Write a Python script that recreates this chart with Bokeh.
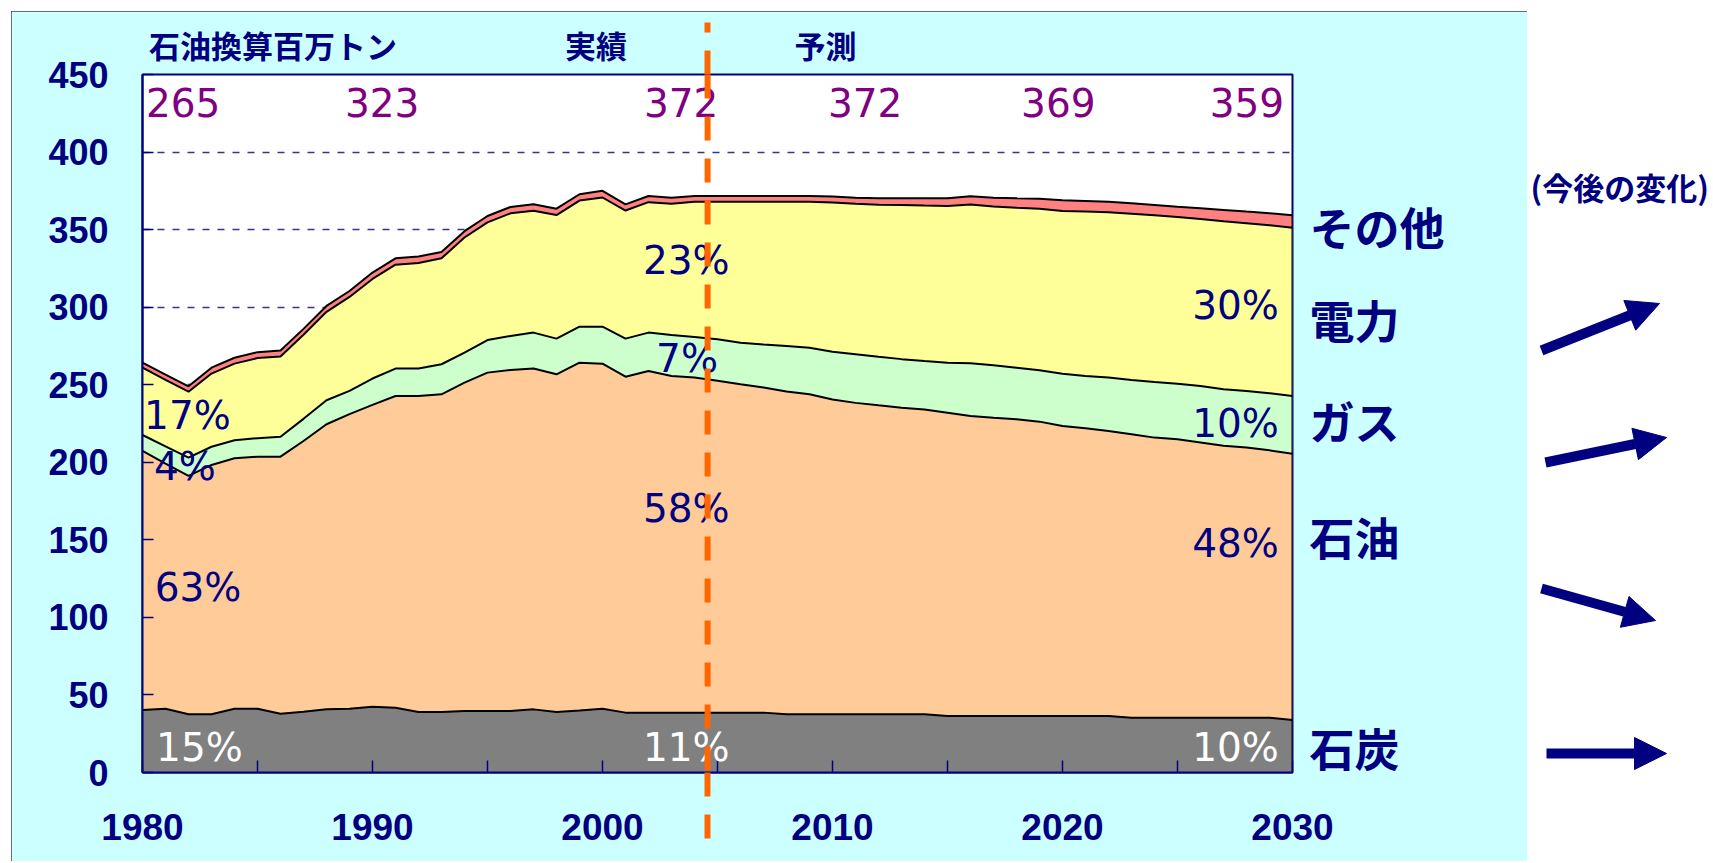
from bokeh.plotting import figure
from bokeh.models import (ColumnDataSource, Range1d, FixedTicker, Label, Arrow,
                          NormalHead, Spacer, Span, LinearAxis)
from bokeh.layouts import row, column
from bokeh.embed import file_html
from bokeh.resources import INLINE

# ---------------- data (million tonnes oil equivalent) ----------------
years = list(range(1980, 2031))
coal = [40.3, 41.1, 37.5, 37.5, 41.1, 41.1, 37.9, 39.2, 40.7, 41.1,
        42.4, 41.8, 39.0, 39.0, 39.7, 39.7, 39.7, 40.7, 39.0, 40.0,
        41.1, 38.6, 38.6, 38.6, 38.6, 38.6, 38.6, 38.6, 37.5, 37.5,
        37.5, 37.5, 37.5, 37.5, 37.5, 36.4, 36.4, 36.4, 36.4, 36.4,
        36.4, 36.4, 36.4, 35.3, 35.3, 35.3, 35.3, 35.3, 35.3, 35.3,
        33.8]
oil = [167.0, 158.1, 153.7, 160.8, 161.5, 162.5, 165.7, 174.5, 183.8, 189.9,
       194.6, 200.9, 203.7, 204.8, 211.6, 218.1, 219.8, 219.7, 217.7, 224.2,
       222.5, 216.6, 220.3, 217.0, 216.0, 213.9, 211.7, 209.6, 208.1, 206.3,
       203.0, 200.8, 199.2, 197.7, 196.6, 195.6, 193.4, 192.3, 191.3, 189.8,
       187.0, 185.5, 183.8, 182.8, 180.6, 179.5, 177.4, 175.3, 174.2, 172.4,
       171.7]
gas = [10.3, 11.1, 11.8, 11.7, 11.6, 11.9, 12.9, 14.3, 15.5, 15.0,
       17.0, 17.7, 17.7, 19.4, 19.4, 21.0, 21.9, 23.2, 23.0, 23.2,
       23.8, 24.5, 24.7, 26.5, 26.2, 26.8, 26.8, 27.8, 29.4, 30.1,
       30.8, 31.4, 31.3, 31.3, 31.2, 32.2, 34.0, 33.8, 33.3, 33.1,
       33.7, 33.7, 34.4, 35.0, 35.9, 35.9, 36.5, 36.5, 36.5, 36.8,
       37.3]
elec = [43.4, 42.8, 42.5, 47.2, 49.4, 51.7, 51.7, 54.2, 57.0, 60.6,
        64.2, 67.0, 68.1, 68.3, 74.2, 75.9, 79.1, 78.6, 79.7, 81.3,
        83.3, 82.6, 84.1, 84.5, 87.1, 88.6, 90.8, 91.9, 92.9, 94.0,
        96.2, 96.9, 98.0, 99.3, 100.2, 101.1, 102.4, 102.4, 103.1, 104.1,
        104.9, 106.0, 106.6, 107.1, 107.4, 107.4, 107.6, 108.3, 108.1, 108.3,
        108.4]
other = [3.2, 3.4, 3.5, 3.8, 3.8, 3.8, 3.8, 3.8, 3.8, 3.8,
         4.1, 4.1, 4.1, 4.1, 4.1, 4.1, 4.1, 4.1, 4.1, 4.1,
         4.3, 4.0, 4.0, 4.0, 3.8, 3.8, 3.8, 3.8, 3.8, 3.8,
         3.8, 4.0, 4.2, 4.4, 4.7, 4.9, 5.3, 5.7, 6.1, 6.5,
         6.9, 6.9, 6.8, 6.8, 6.7, 6.7, 7.0, 7.3, 7.5, 7.8,
         8.0]

series_keys = ["coal", "oil", "gas", "elec", "other"]
series_names = ["石炭", "石油", "ガス", "電力", "その他"]
total_labels = ["265", "323", "372", "372", "369", "359"]
share_labels = ["17%", "4%", "63%", "15%", "23%", "7%", "58%", "11%",
                "30%", "10%", "48%", "10%"]
header_labels = ["石油換算百万トン", "実績", "予測"]
trend_title = "(今後の変化)"
split_year = 2004.57
x_ticks = [1980, 1985, 1990, 1995, 2000, 2005, 2010, 2015, 2020, 2025, 2030]
x_labels = ["1980", "", "1990", "", "2000", "", "2010", "", "2020", "", "2030"]
y_ticks = [0, 50, 100, 150, 200, 250, 300, 350, 400, 450]

# ---------------- styles / layout positions ----------------
NAVY = "#000080"
PURPLE = "#800080"
CYAN = "#CCFFFF"
ORANGE = "#FF6600"
fills = ["#808080", "#FFCC99", "#CCFFCC", "#FFFF99", "#FF8080"]

tot_pos_x = [1980.15, 1988.8, 2001.8, 2009.8, 2018.2, 2026.4]
tot_pos_y = 431.7
share_pos = [(1980.07, 229.9, "left", NAVY), (1980.5, 197.6, "left", NAVY),
             (1980.53, 119.0, "left", NAVY), (1980.59, 15.8, "left", "white"),
             (2001.76, 330.4, "left", NAVY), (2002.33, 266.6, "left", NAVY),
             (2001.76, 170.5, "left", NAVY), (2001.76, 15.8, "left", "white"),
             (2029.41, 300.8, "right", NAVY), (2029.41, 225.3, "right", NAVY),
             (2029.41, 147.7, "right", NAVY), (2029.41, 15.8, "right", "white")]
name_pos_y = [16, 152, 227, 292, 352]
header_pos_x = [1985.67, 1999.72, 2009.7]

totals = [round(a + b + c + d + e, 1) for a, b, c, d, e in zip(coal, oil, gas, elec, other)]
source = ColumnDataSource(dict(year=years, coal=coal, oil=oil, gas=gas,
                               elec=elec, other=other))

p = figure(frame_width=1150, frame_height=698,
           min_border_left=131, min_border_right=235,
           min_border_top=63, min_border_bottom=89,
           x_range=Range1d(1980, 2030), y_range=Range1d(0, 450),
           output_backend="svg", toolbar_location=None,
           background_fill_color="white", border_fill_color=CYAN,
           outline_line_color=NAVY, outline_line_width=2,
           styles={"outline": "1px solid #404040", "outline-offset": "-1px"})

p.varea_stack(stackers=series_keys, x="year", color=fills, source=source)
p.vline_stack(stackers=series_keys, x="year", color="black", line_width=2,
              source=source)
# closing edge of the stacked areas at the last year
p.segment(x0=[years[-1]], y0=[0], x1=[years[-1]], y1=[totals[-1]],
          line_color="black", line_width=2)

# main axes
for ax in (p.xaxis[0], p.yaxis[0]):
    ax.axis_line_color = NAVY
    ax.axis_line_width = 2
    ax.major_tick_line_color = NAVY
    ax.major_tick_line_width = 1.5
    ax.major_tick_out = 0
    ax.major_label_text_color = NAVY
    ax.major_label_text_font = "Liberation Sans"
    ax.major_label_text_font_style = "bold"

xa = p.xaxis[0]
xa.ticker = FixedTicker(ticks=x_ticks, minor_ticks=[split_year])
xa.major_label_overrides = dict(zip(x_ticks, x_labels))
xa.major_tick_in = 12
# split mark continues below the plot (drawn outward via a negative "in")
xa.minor_tick_in = -74
xa.minor_tick_out = 0
xa.minor_tick_line_color = ORANGE
xa.minor_tick_line_width = 6
xa.minor_tick_line_dash = "24 18"
xa.major_label_text_font_size = "37px"
xa.major_label_standoff = 41

ya = p.yaxis[0]
ya.ticker = FixedTicker(ticks=y_ticks)
ya.major_tick_in = 11
ya.minor_tick_line_color = None
ya.major_label_text_font_size = "36px"
ya.major_label_standoff = 34

p.xgrid.grid_line_color = None
p.ygrid.ticker = FixedTicker(ticks=y_ticks)
p.ygrid.grid_line_color = "#333399"
p.ygrid.grid_line_width = 1.5
p.ygrid.grid_line_dash = "7 8"

# header line above the plot (unit, actual / forecast) + split mark
top_ax = LinearAxis(ticker=FixedTicker(ticks=header_pos_x, minor_ticks=[split_year]),
                    major_label_overrides=dict(zip(header_pos_x, header_labels)),
                    axis_line_color=None, major_tick_line_color=None,
                    minor_tick_line_color=ORANGE, minor_tick_line_width=6,
                    minor_tick_line_dash="24 18", minor_tick_in=-52, minor_tick_out=0,
                    major_tick_in=0, major_tick_out=0, major_label_standoff=8,
                    major_label_text_font="Noto Sans CJK JP",
                    major_label_text_font_style="bold",
                    major_label_text_font_size="31px", major_label_text_color=NAVY)
p.add_layout(top_ax, "above")

# series names right of the plot
right_ax = LinearAxis(ticker=FixedTicker(ticks=name_pos_y),
                      major_label_overrides=dict(zip(name_pos_y, series_names)),
                      axis_line_color=None, major_tick_line_color=None,
                      minor_tick_line_color=None, major_tick_in=0, major_tick_out=0,
                      major_label_standoff=17,
                      major_label_text_font="Noto Sans CJK JP",
                      major_label_text_font_style="bold",
                      major_label_text_font_size="45px", major_label_text_color=NAVY)
p.add_layout(right_ax, "right")

# totals
for txt, xx in zip(total_labels, tot_pos_x):
    p.add_layout(Label(x=xx, y=tot_pos_y, text=txt, text_font="DejaVu Sans",
                       text_font_size="39px", text_color=PURPLE,
                       text_align="left", text_baseline="middle"))
# shares
for txt, (xx, yy, al, col) in zip(share_labels, share_pos):
    p.add_layout(Label(x=xx, y=yy, text=txt, text_font="DejaVu Sans",
                       text_font_size="39px", text_color=col,
                       text_align=al, text_baseline="middle"))

# split line actual / forecast (inside the frame)
p.add_layout(Span(location=split_year, dimension="height", line_color=ORANGE,
                  line_width=6, line_dash="24 18", level="overlay"))

# ---------------- right-hand trend panel ----------------
r = figure(width=184, height=861, x_range=Range1d(0, 184), y_range=Range1d(861, 0),
           min_border=0, output_backend="svg", toolbar_location=None,
           x_axis_type=None, y_axis_type=None, outline_line_color=None,
           background_fill_color="white", border_fill_color="white")
r.grid.grid_line_color = None
r.add_layout(Label(x=3, y=186, text=trend_title, text_font="Noto Sans CJK JP",
                   text_font_style="bold", text_font_size="31px", text_color=NAVY,
                   text_align="left", text_baseline="middle"))
arrow_px = [(14, 350, 132, 303), (18, 462, 139, 437),
            (14, 588, 128, 620), (19, 753, 139, 753)]
for xs, ys, xe, ye in arrow_px:
    r.add_layout(Arrow(end=NormalHead(size=32, fill_color=NAVY, line_color=NAVY),
                       x_start=xs, y_start=ys, x_end=xe, y_end=ye,
                       line_color=NAVY, line_width=10))

left = column(Spacer(width=1527, height=11),
              row(Spacer(width=11, height=850), p))
layout = row(left, r)

open("out.html", "w").write(file_html(layout, INLINE))
